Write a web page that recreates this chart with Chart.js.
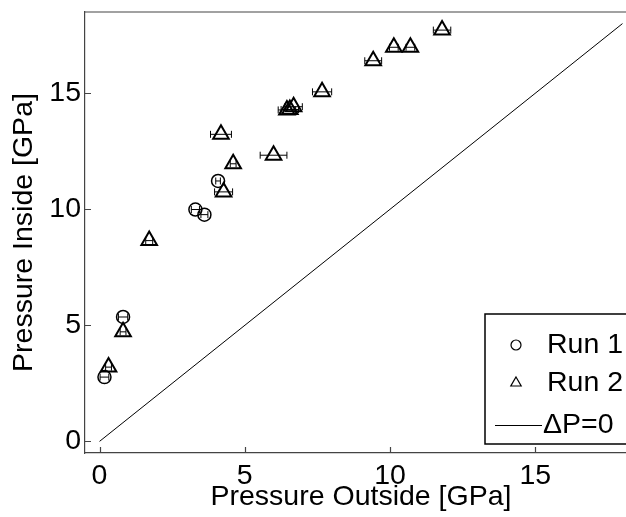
<!DOCTYPE html>
<html>
<head>
<meta charset="utf-8">
<script src="https://cdn.jsdelivr.net/npm/chart.js@4/dist/chart.umd.min.js"></script>
<style>
html, body { margin: 0; padding: 0; background: #fff; overflow: hidden; }
#wrap { width: 626px; height: 517px; overflow: hidden; }
canvas { display: block; }
</style>
</head>
<body>
<div id="wrap"><canvas id="c" width="650" height="517"></canvas></div>
<script>
// ---- data ----
const run1X   = [0.17, 0.81, 3.30, 3.61, 4.08];
const run1Y   = [2.77, 5.36, 9.99, 9.77, 11.22];
const run1Err = [0.15, 0.16, 0.14, 0.12, 0.08];

const run2X   = [0.31, 0.81, 1.71, 4.18, 4.60, 4.27, 5.99, 6.45, 6.55, 6.68, 7.66, 9.42, 10.13, 10.70, 11.79];
const run2Y   = [3.20, 4.72, 8.65, 13.23, 11.96, 10.75, 12.33, 14.28, 14.30, 14.42, 15.06, 16.40, 16.98, 16.98, 17.72];
const run2Err = [0.10, 0.10, 0.12, 0.36, 0.10, 0.31, 0.46, 0.30, 0.30, 0.30, 0.33, 0.29, 0.15, 0.15, 0.30];

const refX = [0, 18];
const refY = [0, 18];

const xTicks = [0, 5, 10, 15];
const yTicks = [0, 5, 10, 15];

const seriesLabels = ['Run 1', 'Run 2', '\u0394P=0'];
const xTitle = 'Pressure Outside [GPa]';
const yTitle = 'Pressure Inside [GPa]';

const FONT = '"Liberation Sans", Arial, Helvetica, sans-serif';
const FS = 28.5;

const pts = (xs, ys) => xs.map((x, i) => ({ x: x, y: ys[i] }));

// error bars + inward ticks + top frame + boxed legend
const decorPlugin = {
  id: 'decor',
  beforeDatasetsDraw(chart) {
    const ctx = chart.ctx;
    const xs = chart.scales.x, ys = chart.scales.y;
    ctx.save();
    ctx.strokeStyle = '#000';
    ctx.lineWidth = 1;
    chart.data.datasets.forEach(ds => {
      if (!ds.xErr) return;
      ds.data.forEach((p, i) => {
        const e = ds.xErr[i];
        const x1 = xs.getPixelForValue(p.x - e), x2 = xs.getPixelForValue(p.x + e);
        const y = ys.getPixelForValue(p.y);
        ctx.beginPath();
        ctx.moveTo(x1, y); ctx.lineTo(x2, y);
        ctx.moveTo(x1, y - 3.5); ctx.lineTo(x1, y + 3.5);
        ctx.moveTo(x2, y - 3.5); ctx.lineTo(x2, y + 3.5);
        ctx.stroke();
      });
    });
    ctx.restore();
  },
  afterDraw(chart) {
    const ctx = chart.ctx;
    const a = chart.chartArea;
    const xs = chart.scales.x, ys = chart.scales.y;
    ctx.save();
    ctx.strokeStyle = '#444';
    ctx.lineWidth = 1.2;
    ctx.beginPath();
    ctx.moveTo(a.left, a.top); ctx.lineTo(a.right, a.top);
    ctx.stroke();
    ctx.beginPath();
    xTicks.forEach(v => {
      const px = Math.round(xs.getPixelForValue(v)) + 0.5;
      ctx.moveTo(px, a.bottom); ctx.lineTo(px, a.bottom - 6);
    });
    yTicks.forEach(v => {
      const py = Math.round(ys.getPixelForValue(v)) + 0.5;
      ctx.moveTo(a.left, py); ctx.lineTo(a.left + 6, py);
    });
    ctx.stroke();

    const bx = 485, by = 314, bw = 200, bh = 130;
    ctx.fillStyle = '#fff';
    ctx.fillRect(bx, by, bw, bh);
    ctx.strokeStyle = '#000';
    ctx.lineWidth = 1.5;
    ctx.strokeRect(bx, by, bw, bh);

    const rows = [345, 383, 425];
    const mx = 516;
    ctx.lineWidth = 1.2;
    ctx.beginPath();
    ctx.arc(mx, rows[0], 5, 0, Math.PI * 2);
    ctx.stroke();
    const r = 6;
    ctx.beginPath();
    for (let k = 0; k < 3; k++) {
      const ang = k * 2 * Math.PI / 3;
      const px = mx + Math.sin(ang) * r, py = rows[1] - Math.cos(ang) * r;
      if (k === 0) ctx.moveTo(px, py); else ctx.lineTo(px, py);
    }
    ctx.closePath();
    ctx.stroke();
    ctx.lineWidth = 1;
    ctx.beginPath();
    ctx.moveTo(495, rows[2] + 0.5); ctx.lineTo(542, rows[2] + 0.5);
    ctx.stroke();

    ctx.fillStyle = '#000';
    ctx.font = FS + 'px ' + FONT;
    ctx.textBaseline = 'middle';
    ctx.textAlign = 'left';
    ctx.fillText(seriesLabels[0], 547, rows[0]);
    ctx.fillText(seriesLabels[1], 547, rows[1]);
    ctx.fillText(seriesLabels[2], 543, rows[2]);
    ctx.restore();
  }
};

new Chart(document.getElementById('c'), {
  type: 'scatter',
  data: {
    datasets: [
      {
        label: seriesLabels[0],
        data: pts(run1X, run1Y),
        xErr: run1Err,
        pointStyle: 'circle',
        pointRadius: 6.5,
        borderColor: '#000',
        backgroundColor: 'rgba(0,0,0,0)',
        borderWidth: 1.5,
        showLine: false
      },
      {
        label: seriesLabels[1],
        data: pts(run2X, run2Y),
        xErr: run2Err,
        pointStyle: 'triangle',
        pointRadius: 9,
        borderColor: '#000',
        backgroundColor: 'rgba(0,0,0,0)',
        borderWidth: 2,
        showLine: false
      },
      {
        label: seriesLabels[2],
        data: pts(refX, refY),
        showLine: true,
        pointRadius: 0,
        borderColor: '#000',
        borderWidth: 1,
        fill: false
      }
    ]
  },
  options: {
    responsive: false,
    devicePixelRatio: 1,
    animation: false,
    events: [],
    layout: { padding: { left: 0, top: 12, right: 13, bottom: 0 } },
    plugins: { legend: { display: false }, tooltip: { enabled: false } },
    scales: {
      x: {
        type: 'linear',
        min: -0.5, max: 18.5,
        afterFit: s => { s.height = 64; s.paddingLeft = 0; s.paddingRight = 0; },
        afterBuildTicks: s => { s.ticks = xTicks.map(v => ({ value: v })); },
        grid: { display: false, drawTicks: false },
        border: { display: true, color: '#444', width: 1.2 },
        ticks: { color: '#000', padding: 6, font: { family: FONT, size: FS }, maxRotation: 0 },
        title: { display: true, text: xTitle, color: '#000', font: { family: FONT, size: FS }, padding: { top: 0, bottom: 3 } }
      },
      y: {
        type: 'linear',
        min: -0.5, max: 18.5,
        afterFit: s => { s.width = 85; s.paddingTop = 0; s.paddingBottom = 0; },
        afterBuildTicks: s => { s.ticks = yTicks.map(v => ({ value: v })); },
        grid: { display: false, drawTicks: false },
        border: { display: true, color: '#444', width: 1.2 },
        ticks: { color: '#000', padding: 4, font: { family: FONT, size: FS } },
        title: { display: true, text: yTitle, color: '#000', font: { family: FONT, size: FS }, padding: { top: 7, bottom: 0 } }
      }
    }
  },
  plugins: [decorPlugin]
});
</script>
</body>
</html>
